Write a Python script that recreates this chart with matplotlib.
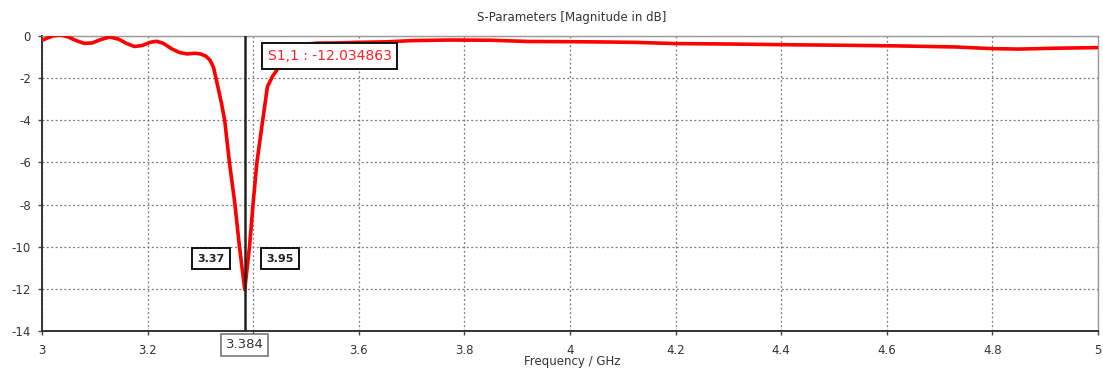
import matplotlib
matplotlib.use("Agg")
import matplotlib.pyplot as plt
import matplotlib.transforms as mtransforms

# S11 magnitude (dB) versus frequency (GHz)
freq_ghz = [3.00, 3.01, 3.02, 3.035, 3.05, 3.065, 3.08, 3.095, 3.11, 3.128,
            3.145, 3.16, 3.175, 3.19, 3.205, 3.217, 3.23, 3.245, 3.26, 3.275,
            3.29, 3.30, 3.31, 3.318, 3.325, 3.333, 3.34, 3.346, 3.355, 3.365,
            3.374, 3.384, 3.393, 3.40, 3.407, 3.418, 3.427, 3.437, 3.448, 3.46,
            3.475, 3.49, 3.52, 3.557, 3.60, 3.65, 3.70, 3.77, 3.85, 3.92,
            4.00, 4.05, 4.12, 4.20, 4.30, 4.43, 4.52, 4.62, 4.73, 4.80,
            4.85, 4.92, 5.00]
s11_db = [-0.20, -0.10, 0.00, 0.05, -0.05, -0.22, -0.35, -0.33, -0.18, -0.05,
          -0.15, -0.35, -0.50, -0.45, -0.30, -0.25, -0.35, -0.60, -0.78, -0.85,
          -0.82, -0.85, -0.95, -1.14, -1.50, -2.40, -3.20, -4.00, -6.00, -7.90,
          -10.00, -12.034863, -10.00, -7.90, -6.00, -4.00, -2.40, -1.90, -1.50, -1.00,
          -0.65, -0.42, -0.34, -0.33, -0.30, -0.28, -0.22, -0.19, -0.20, -0.26,
          -0.27, -0.28, -0.30, -0.36, -0.38, -0.42, -0.44, -0.47, -0.52, -0.60,
          -0.62, -0.58, -0.55]

x_ticks = [3.0, 3.2, 3.4, 3.6, 3.8, 4.0, 4.2, 4.4, 4.6, 4.8, 5.0]
x_tick_labels = ["3", "3.2", "", "3.6", "3.8", "4", "4.2", "4.4", "4.6", "4.8", "5"]
y_ticks = [0, -2, -4, -6, -8, -10, -12, -14]
y_tick_labels = ["0", "-2", "-4", "-6", "-8", "-10", "-12", "-14"]

marker_freq = 3.384
marker_value = -12.034863
band_low = 3.37
band_high = 3.95

fig = plt.figure(figsize=(11.03, 3.71), dpi=100)
ax = fig.add_axes([42 / 1103, 40 / 371, 1056 / 1103, 295 / 371])

ax.plot(freq_ghz, s11_db, color="#ff0000", linewidth=2.6, zorder=3,
        solid_joinstyle="round", solid_capstyle="round")
ax.axvline(marker_freq, color="#222222", linewidth=1.8, zorder=4)

ax.set_xlim(3.0, 5.0)
ax.set_ylim(-14, 0)
ax.set_xticks(x_ticks)
ax.set_xticklabels(x_tick_labels)
ax.set_yticks(y_ticks)
ax.set_yticklabels(y_tick_labels)
ax.tick_params(axis="both", length=3, width=1, colors="#444444",
               labelsize=8.5, labelcolor="#333333")
ax.tick_params(axis="y", pad=5)
ax.tick_params(axis="x", pad=6)

ax.grid(True, linestyle=(0, (1.5, 2)), color="#777777", linewidth=0.9)
for side in ("top", "right"):
    ax.spines[side].set_color("#999999")
    ax.spines[side].set_linewidth(1.0)
for side in ("left", "bottom"):
    ax.spines[side].set_color("#333333")
    ax.spines[side].set_linewidth(1.4)

fig.text(572 / 1103, 1 - 18 / 371, "S-Parameters [Magnitude in dB]",
         ha="center", va="center", fontsize=8.5, color="#333333")
fig.text(572 / 1103, 1 - 362 / 371, "Frequency / GHz",
         ha="center", va="center", fontsize=8.5, color="#333333")

# marker readout
ax.text(3.545, -0.95, "S1,1 : -12.034863", ha="center", va="center",
        fontsize=10, color="#ff2020", zorder=5,
        bbox=dict(boxstyle="square,pad=0.4", fc="white", ec="#111111", lw=1.4))

# -10 dB band edge labels
ax.text(3.32, -10.58, f"{band_low:.2f}", ha="center", va="center",
        fontsize=8, fontweight="bold", color="#222222", zorder=5,
        bbox=dict(boxstyle="square,pad=0.5", fc="white", ec="#111111", lw=1.4))
ax.text(3.451, -10.58, f"{band_high:.2f}", ha="center", va="center",
        fontsize=8, fontweight="bold", color="#222222", zorder=5,
        bbox=dict(boxstyle="square,pad=0.5", fc="white", ec="#111111", lw=1.4))

# marker position on the frequency axis
trans = mtransforms.blended_transform_factory(ax.transData, fig.transFigure)
ax.text(marker_freq, 1 - 345 / 371, f"{marker_freq:.3f}", transform=trans,
        ha="center", va="center", fontsize=9.5, color="#333333",
        bbox=dict(boxstyle="square,pad=0.35", fc="white", ec="#777777", lw=1.2))

fig.savefig("out.png", dpi=100)
